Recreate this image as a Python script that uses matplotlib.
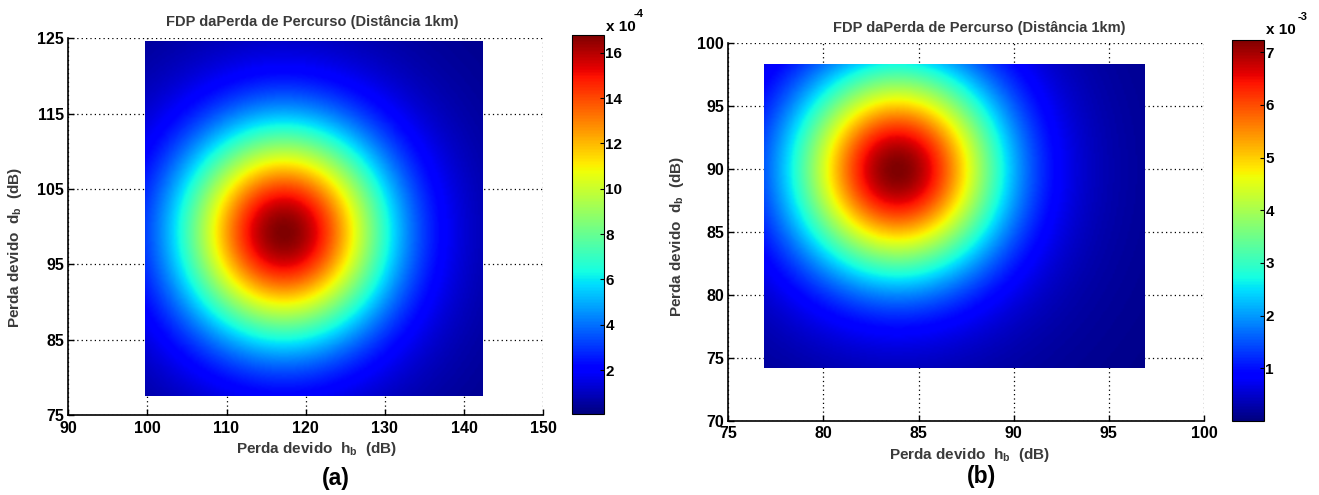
import numpy as np
import matplotlib
matplotlib.use("Agg")
import matplotlib.pyplot as plt

plt.rcParams['font.family'] = ['Liberation Sans', 'DejaVu Sans']
plt.rcParams['mathtext.fontset'] = 'custom'
plt.rcParams['mathtext.rm'] = 'Liberation Sans:bold'
plt.rcParams['mathtext.bf'] = 'Liberation Sans:bold'

# ---------------- data ----------------
title_text = "FDP daPerda de Percurso (Distância 1km)"
xlabel_text = r"Perda devido  h$_{\mathbf{b}}$  (dB)"
ylabel_text = r"Perda devido  d$_{\mathbf{b}}$  (dB)"

# panel (a)
a_x_range = [99.7, 142.3]
a_y_range = [77.5, 124.6]
a_peak = [117.2, 99.2]
a_sigma = [9.0, 9.7]
a_peak_value = 16.8e-4
a_clim = [0.05e-4, 16.8e-4]
a_xticks = [90, 100, 110, 120, 130, 140, 150]
a_yticks = [75, 85, 95, 105, 115, 125]
a_cticks = [2, 4, 6, 8, 10, 12, 14, 16]
a_cexp = -4

# panel (b)
b_x_range = [76.9, 96.9]
b_y_range = [74.2, 98.25]
b_peak = [83.9, 89.9]
b_sigma = [3.75, 5.7]
b_peak_value = 7.23e-3
b_clim = [0.005e-3, 7.23e-3]
b_xticks = [75, 80, 85, 90, 95, 100]
b_yticks = [70, 75, 80, 85, 90, 95, 100]
b_cticks = [1, 2, 3, 4, 5, 6, 7]
b_cexp = -3

# heavier-tail share of the density surface
tail_weight = 0.08
tail_scale = 2.2


def density(xr, yr, peak, sigma, peak_value, n=200):
    x = np.linspace(xr[0], xr[1], n)
    y = np.linspace(yr[0], yr[1], n)
    X, Y = np.meshgrid(x, y)
    r2 = ((X - peak[0]) / sigma[0]) ** 2 + ((Y - peak[1]) / sigma[1]) ** 2
    f = (1 - tail_weight) * np.exp(-r2 / 2) + tail_weight * np.exp(-r2 / (2 * tail_scale ** 2))
    return peak_value * f


W, H = 1319, 495
fig = plt.figure(figsize=(W / 100, H / 100), dpi=100)

label_color = '#3a3a3a'


def panel(ax_rect, cax_rect, xr, yr, peak, sigma, peak_value, clim,
          xticks, yticks, cticks, cexp, tag, tag_xy, title_xy, xlabel_xy, ylabel_xy,
          exp_xy, sup_xy):
    ax = fig.add_axes(ax_rect)
    Z = density(xr, yr, peak, sigma, peak_value)
    im = ax.imshow(Z, extent=[xr[0], xr[1], yr[0], yr[1]], origin='lower',
                   aspect='auto', cmap='jet', vmin=clim[0], vmax=clim[1],
                   interpolation='bilinear', zorder=1)
    ax.set_xlim(xticks[0], xticks[-1])
    ax.set_ylim(yticks[0], yticks[-1])
    ax.set_xticks(xticks)
    ax.set_yticks(yticks)
    ax.set_xticklabels([str(t) for t in xticks], fontsize=11.5, fontweight='bold')
    ax.set_yticklabels([str(t) for t in yticks], fontsize=11.5, fontweight='bold')
    ax.set_axisbelow(True)
    ax.grid(True, linestyle=(0, (1, 2.5)), color='black', linewidth=0.9)
    ax.spines['top'].set_visible(False)
    ax.spines['right'].set_visible(False)
    ax.spines['left'].set_linewidth(1.2)
    ax.spines['bottom'].set_linewidth(1.2)
    ax.tick_params(direction='in', length=4, width=1)
    ax.tick_params(axis='x', pad=4)
    ax.tick_params(axis='y', pad=3)

    fig.text(title_xy[0] / W, 1 - title_xy[1] / H, title_text, fontsize=10.5,
             fontweight='bold', color=label_color, ha='center', va='center')
    fig.text(xlabel_xy[0] / W, 1 - xlabel_xy[1] / H, xlabel_text, fontsize=11,
             fontweight='bold', color=label_color, ha='center', va='center')
    fig.text(ylabel_xy[0] / W, 1 - ylabel_xy[1] / H, ylabel_text, fontsize=11,
             fontweight='bold', color=label_color, ha='center', va='center',
             rotation=90)

    cax = fig.add_axes(cax_rect)
    cb = fig.colorbar(im, cax=cax)
    cb.set_ticks([c * 10.0 ** cexp for c in cticks])
    cb.set_ticklabels([str(c) for c in cticks])
    for t in cax.get_yticklabels():
        t.set_fontsize(11)
        t.set_fontweight('bold')
    cax.tick_params(direction='in', length=3, width=0.8, pad=1)
    cb.outline.set_linewidth(0.8)
    fig.text(exp_xy[0] / W, 1 - exp_xy[1] / H, 'x 10', fontsize=11,
             fontweight='bold', ha='left', va='center')
    fig.text(sup_xy[0] / W, 1 - sup_xy[1] / H, '%d' % cexp, fontsize=8,
             fontweight='bold', ha='left', va='center')

    fig.text(tag_xy[0] / W, 1 - tag_xy[1] / H, tag, fontsize=16.5,
             fontweight='bold', ha='center', va='center')
    return ax


panel([68.2 / W, 1 - 415 / H, (543.1 - 68.2) / W, (415 - 38.3) / H],
      [572 / W, 1 - 414.3 / H, 32 / W, (414.3 - 34.7) / H],
      a_x_range, a_y_range, a_peak, a_sigma, a_peak_value, a_clim,
      a_xticks, a_yticks, a_cticks, a_cexp, '(a)',
      tag_xy=(336, 479), title_xy=(312, 22), xlabel_xy=(316, 449), ylabel_xy=(15, 248),
      exp_xy=(606, 27), sup_xy=(634, 14))

panel([728.2 / W, 1 - 420.7 / H, (1204 - 728.2) / W, (420.7 - 42.7) / H],
      [1232 / W, 1 - 420.7 / H, 32 / W, (420.7 - 40) / H],
      b_x_range, b_y_range, b_peak, b_sigma, b_peak_value, b_clim,
      b_xticks, b_yticks, b_cticks, b_cexp, '(b)',
      tag_xy=(982, 477), title_xy=(979, 28), xlabel_xy=(969, 455), ylabel_xy=(677, 237),
      exp_xy=(1266, 30), sup_xy=(1298, 17))

fig.savefig('out.png', dpi=100)
